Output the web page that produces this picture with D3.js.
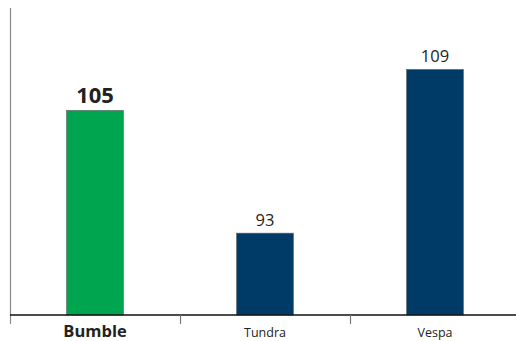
<!DOCTYPE html>
<html><head><meta charset="utf-8">
<script src="https://cdn.jsdelivr.net/npm/d3@7"></script>
<style>body{margin:0;background:#fff}svg{display:block}text{font-family:"Open Sans",sans-serif}</style>
</head><body>
<svg id="c" width="516" height="341"></svg>
<script>
const categories = ["Bumble", "Tundra", "Vespa"];
const values = [105, 93, 109];
const highlight = ["Bumble"];
const yDomain = [85, 115];

const svg = d3.select("#c");
const x = d3.scaleBand().domain(categories).range([10, 520]).paddingInner(0.665).paddingOuter(0.3325);
const y = d3.scaleLinear().domain(yDomain).range([315, 8]);

// y axis line
svg.append("line").attr("x1", 10.5).attr("x2", 10.5).attr("y1", y(yDomain[1])).attr("y2", 324)
  .attr("stroke", "#8a8a8a").attr("stroke-width", 1.2);

// bars
svg.selectAll("rect.bar").data(categories).join("rect")
  .attr("x", d => x(d)).attr("width", x.bandwidth())
  .attr("y", (d, i) => y(values[i])).attr("height", (d, i) => y(yDomain[0]) - y(values[i]))
  .attr("fill", d => highlight.includes(d) ? "#00a550" : "#003b68")
  .attr("stroke", "#666").attr("stroke-width", 0.6);

// x axis
const step = x.step();
svg.append("line").attr("x1", 10).attr("x2", 516).attr("y1", 315).attr("y2", 315)
  .attr("stroke", "#111").attr("stroke-width", 1.6);
const tickXs = categories.slice(1).map(d => x(d) - (step - x.bandwidth()) / 2);
svg.selectAll("line.tick").data(tickXs).join("line")
  .attr("x1", d => Math.round(d) + 0.5).attr("x2", d => Math.round(d) + 0.5)
  .attr("y1", 315).attr("y2", 324).attr("stroke", "#777").attr("stroke-width", 1.2);

// category labels
svg.selectAll("text.cat").data(categories).join("text")
  .attr("x", d => x(d) + x.bandwidth() / 2).attr("y", d => highlight.includes(d) ? 337 : 336.5)
  .attr("text-anchor", "middle")
  .attr("font-size", d => highlight.includes(d) ? 16.5 : 12.5)
  .attr("font-weight", d => highlight.includes(d) ? 700 : 400)
  .attr("fill", "#222").text(d => d);

// value labels
svg.selectAll("text.val").data(categories).join("text")
  .attr("x", d => x(d) + x.bandwidth() / 2)
  .attr("y", (d, i) => y(values[i]) - 7)
  .attr("text-anchor", "middle")
  .attr("font-size", d => highlight.includes(d) ? 22 : 16.5)
  .attr("font-weight", d => highlight.includes(d) ? 700 : 400)
  .attr("fill", "#222").text((d, i) => values[i]);
</script>
</body></html>
